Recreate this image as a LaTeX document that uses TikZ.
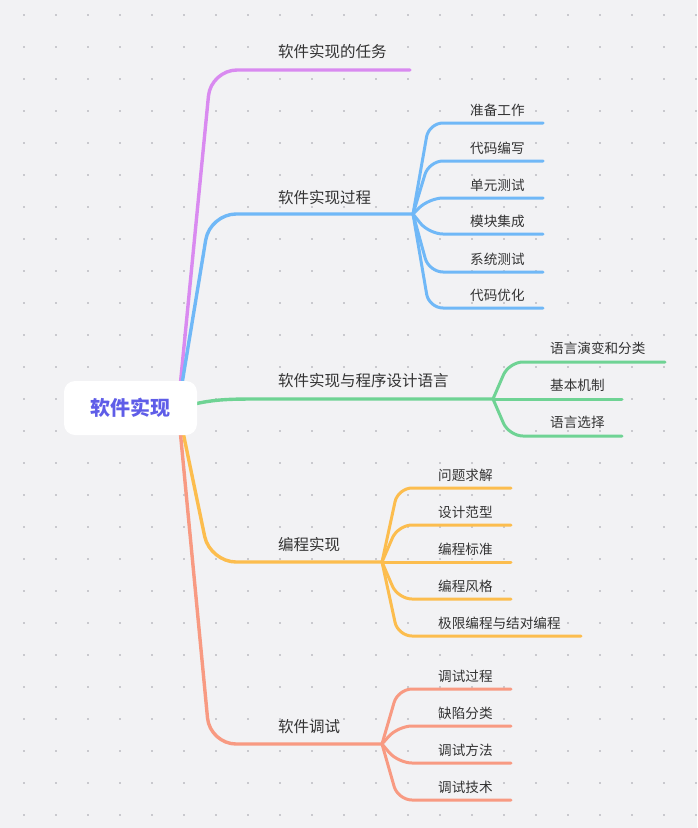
\documentclass[tikz,border=0pt]{standalone}
\usepackage{fontspec}
\setmainfont{Noto Sans CJK SC}
\definecolor{bgc}{HTML}{F2F2F4}
\definecolor{dotc}{HTML}{C9C9CE}
\definecolor{cpurple}{HTML}{D98AF0}
\definecolor{cblue}{HTML}{70B8F7}
\definecolor{cgreen}{HTML}{6FD394}
\definecolor{corange}{HTML}{FCBD4E}
\definecolor{csalmon}{HTML}{F89A82}
\definecolor{roottext}{HTML}{5F5DE8}
\definecolor{txt}{HTML}{333333}
\begin{document}
\begin{tikzpicture}[x=1pt,y=-1pt,
  mainline/.style={line width=3.4pt,line cap=round,line join=round,rounded corners=26pt},
  subline/.style={line width=3pt,line cap=round,line join=round,rounded corners=14pt},
  mainlabel/.style={anchor=west,inner sep=0pt,text=txt,font=\fontsize{15.5}{16}\selectfont},
  sublabel/.style={anchor=west,inner sep=0pt,text=txt,font=\fontsize{13.6}{14}\selectfont},
  rootbox/.style={fill=white,rounded corners=11pt,minimum width=133pt,minimum height=54pt,inner sep=0pt,text=roottext,font=\fontsize{20}{22}\selectfont\bfseries}]
\fill[bgc] (0,0) rectangle (697,828);
\useasboundingbox (0,0) rectangle (697,828);
\foreach \i in {0,...,21}{
  \foreach \j in {0,...,25}{
    \fill[dotc] ({24+32*\i-0.75},{15+32*\j-0.75}) rectangle ++(1.5,1.5);
  }
}
% hub and forks
\coordinate (hub) at (178,408);
\coordinate (p1e) at (410,70);
\coordinate (bf) at (413,214);
\coordinate (gf) at (493,399);
\coordinate (of) at (382,562);
\coordinate (sf) at (382,744);
% main branches
\draw[mainline,cpurple] (hub) -- (211,70) -- (p1e);
\draw[mainline,cblue] (hub) -- (210,214) -- (bf);
\draw[mainline,corange] (hub) -- (210,562) -- (of);
\draw[mainline,csalmon] (hub) -- (210,744) -- (sf);
\draw[mainline,cgreen,rounded corners=0pt] (190,405) .. controls (215,399) and (230,399) .. (262,399) -- (gf);
% root
\node[rootbox] (root) at (130.5,408) {软件实现};
% main labels
\node[mainlabel] (l1) at (278,51.5) {软件实现的任务};
\node[mainlabel] (l2) at (278,197.5) {软件实现过程};
\node[mainlabel] (l3) at (278,380.5) {软件实现与程序设计语言};
\node[mainlabel] (l4) at (278,544.5) {编程实现};
\node[mainlabel] (l5) at (278,726.5) {软件调试};
% blue children
\foreach \n/\yy/\t in {1/123/准备工作,2/161/代码编写,3/198/单元测试,4/234/模块集成,5/272/系统测试,6/308/代码优化}{
  \coordinate (b\n) at (543,\yy);
  \draw[subline,cblue] (bf) -- (429,\yy) -- (b\n);
  \node[sublabel] (bl\n) at (470,\yy-12.8) {\t};
}
% green children
\foreach \n/\yy/\xe/\t in {1/362/665/语言演变和分类,2/399/622/基本机制,3/436/622/语言选择}{
  \coordinate (g\n) at (\xe,\yy);
  \draw[subline,cgreen] (gf) -- (509,\yy) -- (g\n);
  \node[sublabel] (gl\n) at (550,\yy-13.5) {\t};
}
% orange children
\foreach \n/\yy/\xe/\t in {1/488/511/问题求解,2/525/511/设计范型,3/562/511/编程标准,4/599/511/编程风格,5/636/581/极限编程与结对编程}{
  \coordinate (o\n) at (\xe,\yy);
  \draw[subline,corange] (of) -- (398,\yy) -- (o\n);
  \node[sublabel] (ol\n) at (438,\yy-12.5) {\t};
}
% salmon children
\foreach \n/\yy/\t in {1/689/调试过程,2/726/缺陷分类,3/763/调试方法,4/800/调试技术}{
  \coordinate (s\n) at (511,\yy);
  \draw[subline,csalmon] (sf) -- (398,\yy) -- (s\n);
  \node[sublabel] (sl\n) at (438,\yy-12.5) {\t};
}
\end{tikzpicture}
\end{document}
